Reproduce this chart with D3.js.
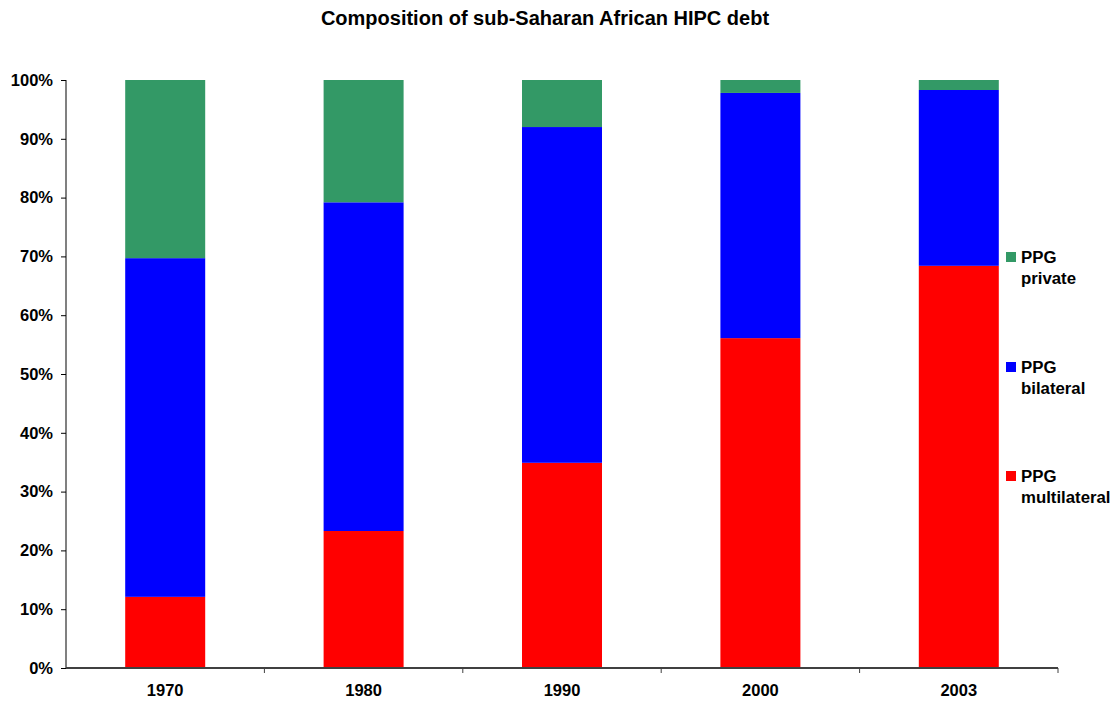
<!DOCTYPE html>
<html><head><meta charset="utf-8">
<script src="https://cdn.jsdelivr.net/npm/d3@7"></script>
<style>body{margin:0;background:#fff;} text{font-family:Arial,"Liberation Sans",sans-serif;font-weight:bold;}</style>
</head><body>
<svg id="chart" width="1114" height="703"></svg>
<script>
const years = ["1970","1980","1990","2000","2003"];
const multilateral = [12.1, 23.3, 34.9, 56.1, 68.4];
const bilateral = [57.6, 55.9, 57.1, 41.7, 29.9];
const privateDebt = [30.3, 20.8, 8.0, 2.2, 1.7];
const yTicks = [0,10,20,30,40,50,60,70,80,90,100];
const colors = ["#ff0000","#0000ff","#339966"];

(function(){
const svg = d3.select("#chart");
const mLeft = 66, mRight = 1058, mTop = 80, mBottom = 668;
const x = d3.scaleBand().domain(years).range([mLeft, mRight]).paddingInner(0.5968).paddingOuter(0.2984);
const y = d3.scaleLinear().domain([0,100]).range([mBottom, mTop]);

const rows = years.map((yr,i)=>({year:yr, m:multilateral[i], b:bilateral[i], p:privateDebt[i]}));
const layers = d3.stack().keys(["m","b","p"])(rows);

svg.append("text").attr("x",545).attr("y",25).attr("text-anchor","middle").attr("font-size",20).text("Composition of sub-Saharan African HIPC debt");

layers.forEach((layer,k)=>{
  svg.append("g").selectAll("rect").data(layer).join("rect")
    .attr("x",d=>x(d.data.year)).attr("width",x.bandwidth())
    .attr("y",d=>y(Math.min(d[1],100))).attr("height",d=>y(d[0])-y(Math.min(d[1],100)))
    .attr("fill",colors[k]);
});

const ya = svg.append("g").attr("transform",`translate(${mLeft},0)`)
  .call(d3.axisLeft(y).tickValues(yTicks).tickFormat(d=>d+"%").tickSize(5).tickPadding(8));
ya.select(".domain").attr("stroke","#808080").attr("stroke-width",2).attr("d",`M0,${mTop}V${mBottom}`);
ya.selectAll(".tick line").attr("stroke","#000");
ya.selectAll("text").attr("font-size",16.5).attr("font-family","Arial,'Liberation Sans',sans-serif").attr("font-weight","bold").attr("fill","#000");

const xa = svg.append("g").attr("transform",`translate(0,${mBottom})`)
  .call(d3.axisBottom(x).tickSize(0).tickPadding(16));
xa.select(".domain").attr("stroke","#404040").attr("stroke-width",2).attr("d",`M${mLeft},0H${mRight}`);
xa.selectAll("text").attr("font-size",16.5).attr("font-family","Arial,'Liberation Sans',sans-serif").attr("font-weight","bold").attr("fill","#000");
const step = (mRight-mLeft)/years.length;
const bounds = d3.range(1, years.length+1).map(i=>mLeft+i*step);
svg.append("g").selectAll("line").data(bounds).join("line")
  .attr("x1",d=>d).attr("x2",d=>d).attr("y1",mBottom).attr("y2",mBottom+5).attr("stroke","#404040");

const legendItems = [
  {name:["PPG","private"], color:colors[2], y:257},
  {name:["PPG","bilateral"], color:colors[1], y:367},
  {name:["PPG","multilateral"], color:colors[0], y:476}
];
const lg = svg.append("g");
legendItems.forEach(it=>{
  lg.append("rect").attr("x",1006).attr("y",it.y-5).attr("width",10).attr("height",10).attr("fill",it.color);
  const t = lg.append("text").attr("x",1021).attr("y",it.y+6).attr("font-size",16.8);
  t.append("tspan").attr("x",1021).text(it.name[0]);
  t.append("tspan").attr("x",1021).attr("dy",21).text(it.name[1]);
});
})();
</script>
</body></html>
